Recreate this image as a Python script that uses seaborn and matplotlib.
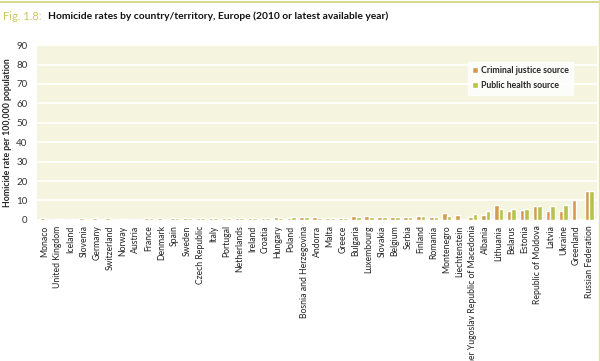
import pandas as pd
import numpy as np
import matplotlib
matplotlib.use("Agg")
import matplotlib.pyplot as plt
import seaborn as sns
from matplotlib.lines import Line2D

countries = [
    "Monaco", "United Kingdom", "Iceland", "Slovenia", "Germany", "Switzerland",
    "Norway", "Austria", "France", "Denmark", "Spain", "Sweden", "Czech Republic",
    "Italy", "Portugal", "Netherlands", "Ireland", "Croatia", "Hungary", "Poland",
    "Bosnia and Herzegovina", "Andorra", "Malta", "Greece", "Bulgaria",
    "Luxembourg", "Slovakia", "Belgium", "Serbia", "Finland", "Romania",
    "Montenegro", "Liechtenstein", "The former Yugoslav Republic of Macedonia",
    "Albania", "Lithuania", "Belarus", "Estonia", "Republic of Moldova", "Latvia",
    "Ukraine", "Greenland", "Russian Federation",
]

criminal_justice = [
    0.9, 0.3, 0.6, 0.7, 0.8, 0.7, 0.6, 0.6, 1.2, 0.8, 0.9, 1.0, 0.9,
    0.9, 1.0, 1.0, 1.1, 1.2, 1.3, 1.2, 1.6, 1.3, 1.0, 1.1, 1.8,
    2.1, 1.6, 1.7, 1.4, 2.2, 1.7, 3.4, 2.6, 1.7,
    2.6, 7.4, 4.6, 5.1, 7.2, 4.6, 4.6, 10.3, 15.0,
]

public_health = [
    0.2, 0.3, 0.6, 0.6, 0.6, 0.6, 0.6, 0.6, 0.7, 0.6, 0.7, 0.9, 0.8,
    0.8, 0.9, 0.9, 1.0, 1.1, 1.2, 1.3, 1.3, 1.1, 1.1, 1.2, 1.5,
    1.4, 1.4, 1.3, 1.5, 2.1, 1.6, 2.2, np.nan, 2.9,
    4.6, 5.7, 5.7, 5.7, 6.9, 7.2, 7.7, np.nan, 14.8,
]

sources = ["Criminal justice source", "Public health source"]
palette = {"Criminal justice source": "#D49A4E", "Public health source": "#B8C24A"}

df = pd.DataFrame({
    "country": countries * 2,
    "rate": criminal_justice + public_health,
    "source": [sources[0]] * len(countries) + [sources[1]] * len(countries),
})

sns.set_style("white")
plt.rcParams["font.family"] = ["Lato", "DejaVu Sans"]

fig = plt.figure(figsize=(6, 3.61), dpi=100)
ax = fig.add_axes([0.062, 0.391, 0.933, 0.484])
ax.set_facecolor("#F5F5DF")

sns.barplot(data=df, x="country", y="rate", hue="source", palette=palette,
            order=countries, hue_order=sources, width=0.72, ax=ax,
            saturation=1, errorbar=None)

ax.set_ylim(0, 90)
ax.set_yticks(range(0, 91, 10))
ax.yaxis.grid(True, color="white", linewidth=1.2)
ax.set_axisbelow(True)
for s in ax.spines.values():
    s.set_visible(False)
ax.tick_params(axis="y", labelsize=7, colors="#333333", length=0, pad=7)
ax.tick_params(axis="x", labelsize=6.2, colors="#222222", length=0, pad=4)
ax.set_xticks(range(len(countries)))
ax.set_xticklabels(countries, rotation=90)
ax.set_xlabel("")
ax.set_ylabel("Homicide rate per 100,000 population", fontsize=6.3,
              fontweight="bold", labelpad=3)
ax.set_xlim(-0.6, len(countries) - 0.4)

leg = ax.legend(loc="upper right", bbox_to_anchor=(0.965, 0.93), fontsize=6.3,
                frameon=True, fancybox=False, edgecolor="white",
                handlelength=0.7, handleheight=0.7, handletextpad=0.3,
                borderpad=0.5, labelspacing=0.7)
leg.get_frame().set_facecolor("white")
for t in leg.get_texts():
    t.set_fontweight("bold")

fig.text(0.005, 0.955, "Fig. 1.8:", fontsize=8, color="#C9C95A", va="center")
fig.text(0.08, 0.955, "Homicide rates by country/territory, Europe (2010 or latest available year)",
         fontsize=7.4, fontweight="bold", color="#111111", va="center")
fig.add_artist(Line2D([0, 1], [0.995, 0.995], color="#D8D890", linewidth=1.5))
fig.add_artist(Line2D([0.998, 0.998], [0, 1], color="#E2E2B0", linewidth=1))

fig.savefig("out.png", dpi=100)
